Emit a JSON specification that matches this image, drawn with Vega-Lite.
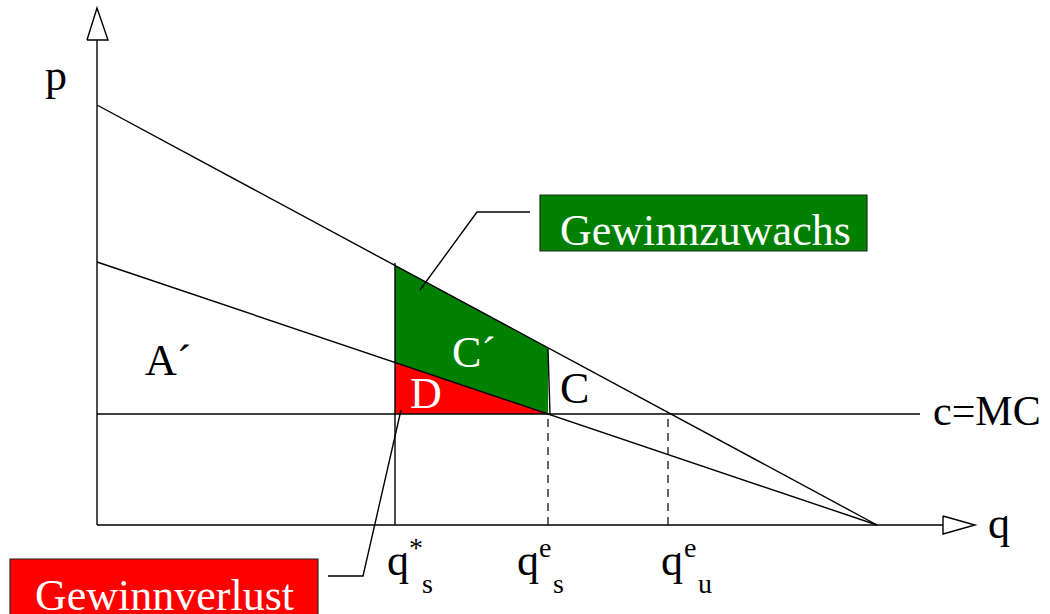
{
  "$schema": "https://vega.github.io/schema/vega-lite/v6.json",
  "width": 1050,
  "height": 614,
  "autosize": "none",
  "padding": 0,
  "background": "white",
  "config": {"view": {"stroke": null}},
  "datasets": {
    "areas": [
      {"id": "gain", "q": 298, "p": 259.5, "p2": 162.5},
      {"id": "gain", "q": 451, "p": 177, "p2": 111},
      {"id": "loss", "q": 298, "p": 162.5, "p2": 111},
      {"id": "loss", "q": 453, "p": 111, "p2": 111}
    ],
    "boxes": [
      {"id": "Gewinnzuwachs", "q": 443, "q2": 770, "p": 274, "p2": 330, "fill": "#008000"},
      {"id": "Gewinnverlust", "q": -87, "q2": 221, "p": -34, "p2": -100, "fill": "#ff0000"}
    ],
    "solid": [
      {"id": "yaxis", "o": 1, "q": 0, "p": 0},
      {"id": "yaxis", "o": 2, "q": 0, "p": 485},
      {"id": "xaxis", "o": 1, "q": 0, "p": 0},
      {"id": "xaxis", "o": 2, "q": 846, "p": 0},
      {"id": "yarrow", "o": 1, "q": -10, "p": 485},
      {"id": "yarrow", "o": 2, "q": 0, "p": 517},
      {"id": "yarrow", "o": 3, "q": 11, "p": 485},
      {"id": "yarrow", "o": 4, "q": -10, "p": 485},
      {"id": "xarrow", "o": 1, "q": 846, "p": 9},
      {"id": "xarrow", "o": 2, "q": 878, "p": 0},
      {"id": "xarrow", "o": 3, "q": 846, "p": -9},
      {"id": "xarrow", "o": 4, "q": 846, "p": 9},
      {"id": "demand", "o": 1, "q": 0, "p": 420},
      {"id": "demand", "o": 2, "q": 780, "p": 0},
      {"id": "mr", "o": 1, "q": 0, "p": 263},
      {"id": "mr", "o": 2, "q": 780, "p": 0},
      {"id": "cmc", "o": 1, "q": 0, "p": 111},
      {"id": "cmc", "o": 2, "q": 823, "p": 111},
      {"id": "qs", "o": 1, "q": 298, "p": 0},
      {"id": "qs", "o": 2, "q": 298, "p": 262},
      {"id": "edge", "o": 1, "q": 451, "p": 176},
      {"id": "edge", "o": 2, "q": 453, "p": 111},
      {"id": "lead1", "o": 1, "q": 433, "p": 313},
      {"id": "lead1", "o": 2, "q": 380, "p": 313},
      {"id": "lead1", "o": 3, "q": 323, "p": 235},
      {"id": "lead2", "o": 1, "q": 231, "p": -51},
      {"id": "lead2", "o": 2, "q": 266, "p": -51},
      {"id": "lead2", "o": 3, "q": 304, "p": 115}
    ],
    "dashed": [
      {"id": "qes", "o": 1, "q": 451, "p": 0},
      {"id": "qes", "o": 2, "q": 451, "p": 111},
      {"id": "qeu", "o": 1, "q": 571, "p": 0},
      {"id": "qeu", "o": 2, "q": 571, "p": 111}
    ],
    "labels": [
      {"text": "p", "q": -52, "p": 435, "size": 44, "color": "black"},
      {"text": "q", "q": 891, "p": -13, "size": 44, "color": "black"},
      {"text": "c=MC", "q": 836, "p": 100, "size": 42, "color": "black"},
      {"text": "A´", "q": 48, "p": 150, "size": 44, "color": "black"},
      {"text": "C´", "q": 355, "p": 158, "size": 44, "color": "white"},
      {"text": "D", "q": 313, "p": 117, "size": 44, "color": "white"},
      {"text": "C", "q": 463, "p": 122, "size": 44, "color": "black"},
      {"text": "Gewinnzuwachs", "q": 463, "p": 280, "size": 44, "color": "white"},
      {"text": "Gewinnverlust", "q": -62, "p": -85, "size": 44, "color": "white"},
      {"text": "q", "q": 290, "p": -50, "size": 44, "color": "black"},
      {"text": "*", "q": 312, "p": -32, "size": 28, "color": "black"},
      {"text": "s", "q": 325, "p": -68, "size": 28, "color": "black"},
      {"text": "q", "q": 420, "p": -50, "size": 44, "color": "black"},
      {"text": "e", "q": 442, "p": -32, "size": 28, "color": "black"},
      {"text": "s", "q": 456, "p": -68, "size": 28, "color": "black"},
      {"text": "q", "q": 564, "p": -50, "size": 44, "color": "black"},
      {"text": "e", "q": 587, "p": -32, "size": 28, "color": "black"},
      {"text": "u", "q": 601, "p": -68, "size": 28, "color": "black"}
    ]
  },
  "layer": [
    {
      "data": {"name": "areas"},
      "mark": {"type": "area", "opacity": 1},
      "encoding": {
        "x": {"field": "q", "type": "quantitative", "scale": {"domain": [-97, 953], "nice": false, "zero": false}, "axis": null},
        "y": {"field": "p", "type": "quantitative", "scale": {"domain": [-89, 525], "nice": false, "zero": false}, "axis": null},
        "y2": {"field": "p2"},
        "detail": {"field": "id"},
        "color": {"field": "id", "type": "nominal", "scale": {"domain": ["gain", "loss"], "range": ["#008000", "#ff0000"]}, "legend": null}
      }
    },
    {
      "data": {"name": "boxes"},
      "mark": {"type": "rect", "stroke": "#1e2a1e", "strokeWidth": 1.2, "clip": true},
      "encoding": {
        "x": {"field": "q", "type": "quantitative", "scale": {"domain": [-97, 953], "nice": false, "zero": false}, "axis": null},
        "x2": {"field": "q2"},
        "y": {"field": "p", "type": "quantitative", "scale": {"domain": [-89, 525], "nice": false, "zero": false}, "axis": null},
        "y2": {"field": "p2"},
        "fill": {"field": "fill", "type": "nominal", "scale": null}
      }
    },
    {
      "data": {"name": "solid"},
      "mark": {"type": "line", "color": "black", "strokeWidth": 1.4},
      "encoding": {
        "x": {"field": "q", "type": "quantitative", "scale": {"domain": [-97, 953], "nice": false, "zero": false}, "axis": null},
        "y": {"field": "p", "type": "quantitative", "scale": {"domain": [-89, 525], "nice": false, "zero": false}, "axis": null},
        "detail": {"field": "id"},
        "order": {"field": "o"}
      }
    },
    {
      "data": {"name": "dashed"},
      "mark": {"type": "line", "color": "black", "strokeWidth": 1.2, "strokeDash": [8, 6]},
      "encoding": {
        "x": {"field": "q", "type": "quantitative", "scale": {"domain": [-97, 953], "nice": false, "zero": false}, "axis": null},
        "y": {"field": "p", "type": "quantitative", "scale": {"domain": [-89, 525], "nice": false, "zero": false}, "axis": null},
        "detail": {"field": "id"},
        "order": {"field": "o"}
      }
    },
    {
      "data": {"name": "labels"},
      "mark": {"type": "text", "font": "Liberation Serif", "align": "left", "baseline": "alphabetic"},
      "encoding": {
        "x": {"field": "q", "type": "quantitative", "scale": {"domain": [-97, 953], "nice": false, "zero": false}, "axis": null},
        "y": {"field": "p", "type": "quantitative", "scale": {"domain": [-89, 525], "nice": false, "zero": false}, "axis": null},
        "text": {"field": "text"},
        "size": {"field": "size", "type": "quantitative", "scale": null},
        "color": {"field": "color", "type": "nominal", "scale": null}
      }
    }
  ]
}
